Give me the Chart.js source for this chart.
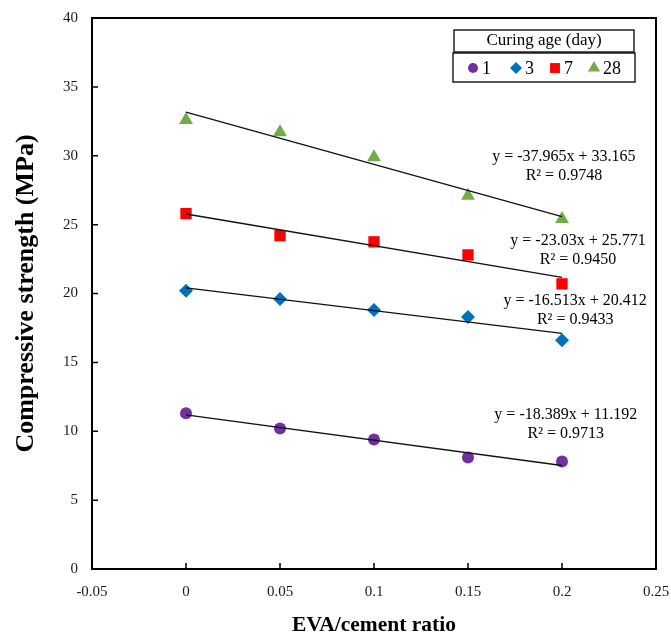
<!DOCTYPE html>
<html>
<head>
<meta charset="utf-8">
<script src="https://cdn.jsdelivr.net/npm/chart.js@4.4.1/dist/chart.umd.min.js"></script>
<style>
  html, body { margin: 0; padding: 0; background: #fff; }
  #wrap { width: 671px; height: 641px; }
</style>
</head>
<body>
<div id="wrap"><canvas id="c" width="671" height="641"></canvas></div>
<script>
// data
const ratios = [0, 0.05, 0.1, 0.15, 0.2];
const day1 = [11.3, 10.2, 9.4, 8.1, 7.8];
const day3 = [20.2, 19.6, 18.8, 18.3, 16.6];
const day7 = [25.8, 24.2, 23.75, 22.8, 20.7];
const day28 = [32.6, 31.7, 29.9, 27.1, 25.4];

const seriesNames = ["1", "3", "7", "28"];
const seriesColors = ["#7030A0", "#0070C0", "#FF0000", "#70AD47"];
const seriesShapes = ["circle", "rectRot", "rect", "triangle"];
const seriesSizes = [6, 7, 8, 8];

// linear fits printed on the figure
const slopes = [-18.389, -16.513, -23.03, -37.965];
const intercepts = [11.192, 20.412, 25.771, 33.165];
const rSquared = ["0.9713", "0.9433", "0.9450", "0.9748"];
const fitRange = [0, 0.2];

// equation label anchors (data units)
const labelX = [0.202, 0.207, 0.2085, 0.201];
const labelY = [11.2, 19.45, 23.8, 29.95];

const xTickLabels = ["-0.05", "0", "0.05", "0.1", "0.15", "0.2", "0.25"];
const yTickLabels = ["0", "5", "10", "15", "20", "25", "30", "35", "40"];

const allSeries = [day1, day3, day7, day28];
const serif = "'Liberation Serif', 'Times New Roman', serif";

const datasets = [];
allSeries.forEach((vals, i) => {
  datasets.push({
    type: "line",
    label: "fit " + seriesNames[i],
    data: fitRange.map(x => ({ x, y: slopes[i] * x + intercepts[i] })),
    borderColor: "#111",
    borderWidth: 1.3,
    pointRadius: 0,
    fill: false,
    order: 0
  });
  datasets.push({
    type: "scatter",
    label: seriesNames[i],
    data: ratios.map((x, k) => ({ x, y: vals[k] })),
    backgroundColor: seriesColors[i],
    borderColor: seriesColors[i],
    borderWidth: 0,
    pointStyle: seriesShapes[i],
    pointRadius: seriesSizes[i],
    order: 1
  });
});

// frame + inward ticks
const framePlugin = {
  id: "frame",
  afterDraw(chart) {
    const { ctx, chartArea: a, scales } = chart;
    ctx.save();
    ctx.strokeStyle = "#000";
    ctx.lineWidth = 1.5;
    ctx.beginPath();
    scales.x.ticks.forEach(t => {
      const px = scales.x.getPixelForValue(t.value);
      ctx.moveTo(px, a.bottom);
      ctx.lineTo(px, a.bottom - 6);
    });
    scales.y.ticks.forEach(t => {
      const py = scales.y.getPixelForValue(t.value);
      ctx.moveTo(a.left, py);
      ctx.lineTo(a.left + 6, py);
    });
    ctx.stroke();
    ctx.lineWidth = 2;
    ctx.strokeRect(a.left, a.top, a.right - a.left, a.bottom - a.top);
    ctx.restore();
  }
};

// trend equations
const equationPlugin = {
  id: "equations",
  afterDatasetsDraw(chart) {
    const { ctx, scales } = chart;
    ctx.save();
    ctx.fillStyle = "#000";
    ctx.font = "16px " + serif;
    ctx.textAlign = "center";
    ctx.textBaseline = "middle";
    slopes.forEach((m, i) => {
      const px = scales.x.getPixelForValue(labelX[i]);
      const py = scales.y.getPixelForValue(labelY[i]);
      const b = intercepts[i];
      ctx.fillText("y = " + m + "x + " + b.toFixed(3), px, py);
      ctx.fillText("R\u00B2 = " + rSquared[i], px, py + 19);
    });
    ctx.restore();
  }
};

// boxed legend with title
const legendPlugin = {
  id: "boxLegend",
  afterDraw(chart) {
    const { ctx } = chart;
    ctx.save();
    ctx.fillStyle = "#fff";
    ctx.fillRect(453, 30, 182, 52);
    ctx.strokeStyle = "#000";
    ctx.lineWidth = 1.3;
    ctx.strokeRect(454, 30, 180, 22);
    ctx.strokeRect(453, 53, 182, 29);
    ctx.fillStyle = "#000";
    ctx.font = "17px " + serif;
    ctx.textAlign = "center";
    ctx.textBaseline = "middle";
    ctx.fillText("Curing age (day)", 544, 41);
    const markX = [473, 516, 555, 594];
    const rowY = 68;
    seriesNames.forEach((name, i) => {
      ctx.fillStyle = seriesColors[i];
      ctx.strokeStyle = seriesColors[i];
      Chart.helpers.drawPoint(ctx, {
        pointStyle: seriesShapes[i],
        radius: seriesSizes[i] - 1,
        rotation: 0,
        borderWidth: 0
      }, markX[i], rowY);
      ctx.fillStyle = "#000";
      ctx.textAlign = "left";
      ctx.font = "18px " + serif;
      ctx.fillText(name, markX[i] + 9, rowY + 1);
    });
    ctx.restore();
  }
};

new Chart(document.getElementById("c"), {
  type: "scatter",
  data: { datasets },
  options: {
    responsive: false,
    animation: false,
    layout: { padding: { top: 18, right: 15, left: 0, bottom: 0 } },
    plugins: { legend: { display: false }, tooltip: { enabled: false } },
    scales: {
      x: {
        type: "linear",
        min: -0.05,
        max: 0.25,
        afterBuildTicks: s => { s.ticks = xTickLabels.map(v => ({ value: parseFloat(v) })); },
        afterFit: s => { s.height = 72; s.paddingLeft = 0; s.paddingRight = 0; },
        grid: { display: false, drawTicks: false },
        border: { display: false },
        ticks: {
          padding: 14,
          color: "#1a1a1a",
          font: { family: serif, size: 15 },
          callback: (v, i) => xTickLabels[i]
        },
        title: {
          display: true,
          text: "EVA/cement ratio",
          color: "#000",
          font: { family: serif, size: 21.5, weight: "bold" },
          padding: { top: 0, bottom: 3 }
        }
      },
      y: {
        type: "linear",
        min: 0,
        max: 40,
        afterBuildTicks: s => { s.ticks = yTickLabels.map(v => ({ value: parseFloat(v) })); },
        afterFit: s => { s.width = 92; s.paddingTop = 0; s.paddingBottom = 0; },
        grid: { display: false, drawTicks: false },
        border: { display: false },
        ticks: {
          padding: 14,
          color: "#1a1a1a",
          font: { family: serif, size: 15 },
          callback: (v, i) => yTickLabels[i]
        },
        title: {
          display: true,
          text: "Compressive strength (MPa)",
          color: "#000",
          font: { family: serif, size: 26, weight: "bold" },
          padding: { top: 11, bottom: 0 }
        }
      }
    }
  },
  plugins: [framePlugin, equationPlugin, legendPlugin]
});
</script>
</body>
</html>
